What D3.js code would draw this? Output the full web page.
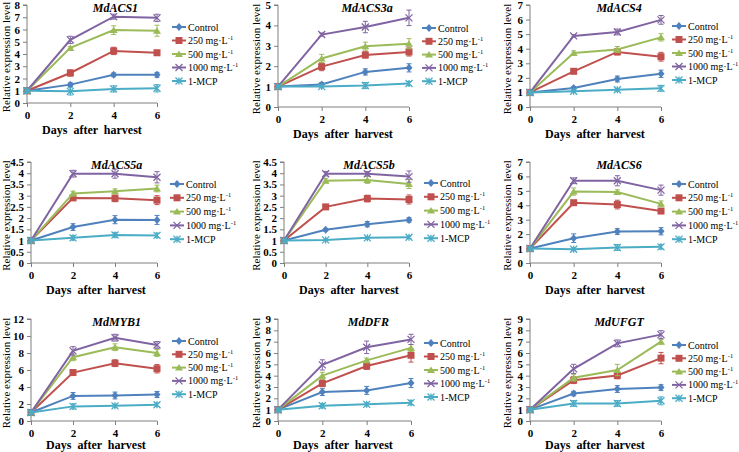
<!DOCTYPE html>
<html>
<head>
<meta charset="utf-8">
<script src="https://cdn.jsdelivr.net/npm/d3@7"></script>
<style>
  body { margin: 0; background: #fff; }
  .tick text { font-weight: bold; font-size: 11px; fill: #000; }
  .lg { font-size: 10px; fill: #000; }
</style>
</head>
<body>
<div id="chart"></div>
<script>
// days after harvest
const days = [0, 2, 4, 6];
const treatments = ["Control", "250", "500", "1000", "1-MCP"];
const genes = ["MdACS1", "MdACS3a", "MdACS4", "MdACS5a", "MdACS5b", "MdACS6", "MdMYB1", "MdDFR", "MdUFGT"];
const yMaxes = [8, 5, 7, 4.5, 4.5, 7, 12, 9, 9];
const ySteps = [1, 1, 1, 0.5, 0.5, 1, 2, 1, 1];

// mean values: one row per treatment
const meanACS1 = [[1, 1.5, 2.3, 2.3], [1, 2.45, 4.25, 4.1], [1, 4.5, 5.95, 5.9], [1, 5.15, 7.05, 6.95], [1, 0.95, 1.15, 1.2]];
const errACS1 = [[0.05, 0.15, 0.15, 0.2], [0.05, 0.25, 0.3, 0.2], [0.05, 0.1, 0.35, 0.45], [0.05, 0.3, 0.2, 0.3], [0.05, 0.3, 0.25, 0.3]];
const meanACS3a = [[1, 1.1, 1.72, 1.92], [1, 1.98, 2.55, 2.7], [1, 2.38, 2.98, 3.1], [1, 3.55, 3.92, 4.37], [1, 1.0, 1.05, 1.15]];
const errACS3a = [[0.02, 0.1, 0.15, 0.2], [0.03, 0.2, 0.15, 0.2], [0.03, 0.2, 0.2, 0.25], [0.03, 0.08, 0.28, 0.38], [0.02, 0.05, 0.15, 0.1]];
const meanACS4 = [[1, 1.3, 1.92, 2.28], [1, 2.45, 3.78, 3.45], [1, 3.7, 3.95, 4.78], [1, 4.88, 5.15, 5.98], [1, 1.08, 1.18, 1.28]];
const errACS4 = [[0.03, 0.1, 0.2, 0.25], [0.03, 0.1, 0.2, 0.3], [0.03, 0.15, 0.2, 0.25], [0.03, 0.08, 0.2, 0.3], [0.03, 0.05, 0.1, 0.2]];
const meanACS5a = [[1, 1.6, 1.93, 1.92], [1, 2.9, 2.88, 2.8], [1, 3.1, 3.2, 3.32], [1, 3.98, 3.98, 3.82], [1, 1.12, 1.25, 1.23]];
const errACS5a = [[0.03, 0.15, 0.18, 0.2], [0.03, 0.1, 0.15, 0.2], [0.03, 0.1, 0.1, 0.15], [0.03, 0.15, 0.2, 0.25], [0.03, 0.1, 0.1, 0.1]];
const meanACS5b = [[1, 1.48, 1.73, 1.92], [1, 2.5, 2.87, 2.83], [1, 3.67, 3.7, 3.52], [1, 3.98, 3.98, 3.85], [1, 1.03, 1.12, 1.15]];
const errACS5b = [[0.03, 0.05, 0.12, 0.1], [0.03, 0.1, 0.15, 0.2], [0.03, 0.1, 0.15, 0.2], [0.03, 0.1, 0.1, 0.25], [0.03, 0.03, 0.05, 0.05]];
const meanACS6 = [[1, 1.72, 2.18, 2.2], [1, 4.18, 4.05, 3.6], [1, 4.95, 4.92, 4.1], [1, 5.7, 5.7, 5.05], [1, 0.95, 1.08, 1.12]];
const errACS6 = [[0.05, 0.3, 0.2, 0.25], [0.05, 0.15, 0.3, 0.15], [0.05, 0.25, 0.15, 0.2], [0.05, 0.2, 0.35, 0.35], [0.05, 0.1, 0.2, 0.15]];
const meanMYB1 = [[1, 2.95, 3.0, 3.12], [1, 5.7, 6.8, 6.15], [1, 7.5, 8.68, 8.0], [1, 8.25, 9.8, 8.95], [1, 1.72, 1.78, 1.92]];
const errMYB1 = [[0.1, 0.4, 0.4, 0.35], [0.1, 0.3, 0.4, 0.5], [0.1, 0.4, 0.4, 0.4], [0.1, 0.5, 0.4, 0.4], [0.1, 0.3, 0.2, 0.2]];
const meanDFR = [[1, 2.55, 2.7, 3.35], [1, 3.32, 4.85, 5.8], [1, 4.0, 5.35, 6.45], [1, 4.95, 6.5, 7.2], [1, 1.35, 1.47, 1.62]];
const errDFR = [[0.05, 0.3, 0.35, 0.4], [0.05, 0.3, 0.3, 0.6], [0.05, 0.3, 0.2, 0.3], [0.05, 0.45, 0.55, 0.45], [0.05, 0.2, 0.15, 0.2]];
const meanUFGT = [[1, 2.42, 2.82, 2.95], [1, 3.6, 4.02, 5.55], [1, 3.82, 4.5, 7.0], [1, 4.6, 6.85, 7.62], [1, 1.55, 1.55, 1.78]];
const errUFGT = [[0.05, 0.2, 0.3, 0.25], [0.05, 0.3, 0.3, 0.5], [0.05, 0.3, 0.5, 0.2], [0.05, 0.4, 0.3, 0.35], [0.05, 0.25, 0.25, 0.35]];

const means = [meanACS1, meanACS3a, meanACS4, meanACS5a, meanACS5b, meanACS6, meanMYB1, meanDFR, meanUFGT];
const errs = [errACS1, errACS3a, errACS4, errACS5a, errACS5b, errACS6, errMYB1, errDFR, errUFGT];

const COLORS = ["#4F81BD", "#C0504D", "#9BBB59", "#8064A2", "#4BACC6"];
const FONT = "Liberation Serif, DejaVu Serif, Times, serif";

// panel frames: x of day0, x of day6, y top, y bottom, legend x, legend y, legend step
const frames = [
  [27, 157, 5, 103, 172, 27, 13.5],
  [278, 409, 5, 107, 422, 28, 13.3],
  [530, 661, 5, 107, 672, 26, 13.5],
  [31, 157, 162, 263, 170, 184, 13.8],
  [284, 409, 162, 263, 424, 183, 13.8],
  [530, 661, 162, 263, 672, 184, 13.8],
  [31, 157, 319, 421, 172, 341, 13.3],
  [278, 411, 319, 421, 424, 343, 13.5],
  [530, 661, 319, 421, 672, 345, 13.3]
];
const yLabelX = [6, 256, 507];

const W = 739, H = 452;
const svg = d3.select("#chart").append("svg").attr("width", W).attr("height", H);

function marker(g, type, color) {
  const s = 3.5;
  if (type === 0) {
    g.append("path").attr("d", `M0,${-s - 0.5}L${s},0L0,${s + 0.5}L${-s},0Z`).attr("fill", color);
  } else if (type === 1) {
    g.append("rect").attr("x", -s).attr("y", -s).attr("width", 2 * s).attr("height", 2 * s).attr("fill", color);
  } else if (type === 2) {
    g.append("path").attr("d", `M0,${-s}L${s + 0.5},${s - 0.5}L${-s - 0.5},${s - 0.5}Z`).attr("fill", color);
  } else if (type === 3) {
    g.append("path").attr("d", `M${-s},${-s}L${s},${s}M${-s},${s}L${s},${-s}`)
      .attr("stroke", color).attr("stroke-width", 1.3);
  } else {
    g.append("path").attr("d", `M${-s},${-s}L${s},${s}M${-s},${s}L${s},${-s}M0,${-s}L0,${s}`)
      .attr("stroke", color).attr("stroke-width", 1.3);
  }
}

genes.forEach(function(gene, gi) {
  const f = frames[gi];
  const col = gi % 3;
  const row = Math.floor(gi / 3);
  const x = d3.scaleLinear().domain([0, 6]).range([f[0], f[1]]);
  const y = d3.scaleLinear().domain([0, yMaxes[gi]]).range([f[3], f[2]]);
  const panel = svg.append("g");

  const yTicks = d3.range(0, yMaxes[gi] + 1e-9, ySteps[gi]);
  panel.append("g")
    .attr("transform", `translate(${f[0]},0)`)
    .call(d3.axisLeft(y).tickValues(yTicks).tickSize(4).tickPadding(3)
      .tickFormat(d => d3.format("")(+d.toFixed(1))))
    .call(g => g.selectAll("line, path").attr("stroke", "#7f7f7f"))
    .call(g => g.select(".domain").attr("d", `M-4,${f[2]}H0V${f[3]}`));

  panel.append("g")
    .attr("transform", `translate(0,${f[3]})`)
    .call(d3.axisBottom(x).tickValues(days).tickSize(4).tickPadding(4).tickFormat(d3.format("d")))
    .call(g => g.selectAll("line, path").attr("stroke", "#7f7f7f"))
    .call(g => g.select(".domain").attr("d", `M${f[0]},0H${f[1]}`));

  // title
  panel.append("text")
    .attr("x", f[0] + (f[1] - f[0]) * 0.68).attr("y", f[2] + 7)
    .attr("text-anchor", "middle")
    .style("font-size", "12px").style("font-weight", "bold").style("font-style", "italic")
    .text(gene);

  panel.append("text")
    .attr("x", f[0] + 65).attr("y", f[3] + (row === 2 ? 28 : 31))
    .attr("text-anchor", "middle")
    .style("font-size", "12px").style("font-weight", "bold").style("word-spacing", "3px")
    .text("Days after harvest");

  panel.append("text")
    .attr("transform", `translate(${yLabelX[col] + 4},${(f[2] + f[3]) / 2 + 3}) rotate(-90)`)
    .attr("text-anchor", "middle")
    .style("font-size", "11px")
    .text("Relative expression level");

  const line = d3.line().x((d, i) => x(days[i])).y(d => y(d));

  treatments.forEach(function(t, ti) {
    const color = COLORS[ti];
    const vals = means[gi][ti];
    const er = errs[gi][ti];
    const sg = panel.append("g");
    sg.append("path").attr("d", line(vals)).attr("fill", "none")
      .attr("stroke", color).attr("stroke-width", 2);
    vals.forEach(function(v, i) {
      const cx = x(days[i]);
      const y1 = y(v + er[i]), y2 = y(v - er[i]);
      sg.append("path")
        .attr("d", `M${cx},${y1}V${y2}M${cx - 2.5},${y1}H${cx + 2.5}M${cx - 2.5},${y2}H${cx + 2.5}`)
        .attr("stroke", color).attr("stroke-width", 1);
      marker(sg.append("g").attr("transform", `translate(${cx},${y(v)})`), ti, color);
    });

    // legend
    const ly = f[5] + ti * f[6];
    const lg = panel.append("g");
    lg.append("line").attr("x1", f[4]).attr("x2", f[4] + 14).attr("y1", ly).attr("y2", ly)
      .attr("stroke", color).attr("stroke-width", 2);
    marker(lg.append("g").attr("transform", `translate(${f[4] + 7},${ly})`), ti, color);
    const tx = lg.append("text").attr("class", "lg").attr("x", f[4] + 16).attr("y", ly + 3.5);
    if (ti >= 1 && ti <= 3) {
      tx.append("tspan").text(t + " mg\u00B7L");
      tx.append("tspan").attr("dy", -4).style("font-size", "6.5px").text("-1");
    } else {
      tx.text(t);
    }
  });
});

svg.selectAll("g").attr("font-family", null);
svg.selectAll("text").attr("font-family", FONT).style("font-family", FONT);
</script>
</body>
</html>
